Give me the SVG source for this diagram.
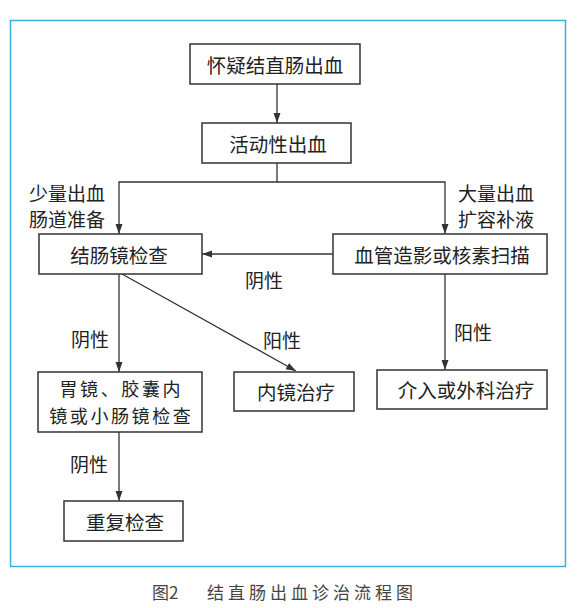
<svg xmlns="http://www.w3.org/2000/svg" width="580" height="608" viewBox="0 0 580 608">
<defs>
<style>
.box{fill:#fff;stroke:#333;stroke-width:1.5}
.t{font-family:"Noto Sans CJK SC","Liberation Serif",sans-serif;font-size:19.5px;fill:#222;text-anchor:middle;dominant-baseline:central}
.t2{font-family:"Noto Sans CJK SC","Liberation Serif",sans-serif;font-size:18px;letter-spacing:2.6px;fill:#222;text-anchor:middle;dominant-baseline:central}
.lb{font-family:"Noto Sans CJK SC","Liberation Serif",sans-serif;font-size:19px;fill:#222;text-anchor:middle;dominant-baseline:central}
.cn{fill:none;stroke:#333;stroke-width:1.3}
.cap{font-family:"Noto Sans CJK SC","Liberation Serif",sans-serif;font-size:17px;fill:#444;dominant-baseline:central}
</style>
<marker id="ah" markerUnits="userSpaceOnUse" markerWidth="11" markerHeight="8" refX="10" refY="3.5" orient="auto">
<path d="M0,0 L10,3.5 L0,7 z" fill="#333"/>
</marker>
</defs>
<rect width="580" height="608" fill="#fff"/>
<rect x="10.5" y="20.5" width="555" height="546" fill="none" stroke="#3daee0" stroke-width="1.5"/>

<g id="connectors">
<line class="cn" x1="277" y1="84" x2="277" y2="123" marker-end="url(#ah)"/>
<polyline class="cn" points="277,163 277,182 119,182 119,234" marker-end="url(#ah)"/>
<polyline class="cn" points="277,182 445,182 445,234" marker-end="url(#ah)"/>
<line class="cn" x1="333" y1="254" x2="202" y2="254" marker-end="url(#ah)"/>
<line class="cn" x1="119" y1="274" x2="119" y2="372" marker-end="url(#ah)"/>
<line class="cn" x1="122" y1="274" x2="296" y2="371" marker-end="url(#ah)"/>
<line class="cn" x1="445" y1="274" x2="445" y2="370" marker-end="url(#ah)"/>
<line class="cn" x1="119" y1="432" x2="119" y2="501" marker-end="url(#ah)"/>
<text class="lb" x="67" y="192">少量出血</text>
<text class="lb" x="67" y="218">肠道准备</text>
<text class="lb" x="496" y="192">大量出血</text>
<text class="lb" x="496" y="218">扩容补液</text>
<text class="lb" x="264" y="279">阴性</text>
<text class="lb" x="90" y="338">阴性</text>
<text class="lb" x="282" y="339">阳性</text>
<text class="lb" x="473" y="331">阳性</text>
<text class="lb" x="89" y="463">阴性</text>
</g>

<g id="n1"><rect class="box" x="190" y="44" width="170" height="40"/><text class="t" x="275" y="64">怀疑结直肠出血</text></g>
<g id="n2"><rect class="box" x="202" y="123" width="149" height="40"/><text class="t" x="278" y="143">活动性出血</text></g>
<g id="n3"><rect class="box" x="39" y="234" width="163" height="40"/><text class="t" x="119" y="254">结肠镜检查</text></g>
<g id="n4"><rect class="box" x="333" y="234" width="214" height="40"/><text class="t" x="442" y="254">血管造影或核素扫描</text></g>
<g id="n5"><rect class="box" x="38" y="372" width="164" height="60"/><text class="t2" x="121.3" y="388">胃镜、胶囊内</text><text class="t2" x="121.3" y="414.5">镜或小肠镜检查</text></g>
<g id="n6"><rect class="box" x="234" y="372" width="120" height="39"/><text class="t" x="296" y="391.5">内镜治疗</text></g>
<g id="n7"><rect class="box" x="377" y="370" width="170" height="39"/><text class="t" x="466" y="389.5">介入或外科治疗</text></g>
<g id="n8"><rect class="box" x="64" y="501" width="119" height="40"/><text class="t" x="125" y="521">重复检查</text></g>

<text class="cap" x="152" y="591">图2</text>
<text class="cap" x="207" y="591" letter-spacing="4">结直肠出血诊治流程图</text>
</svg>
